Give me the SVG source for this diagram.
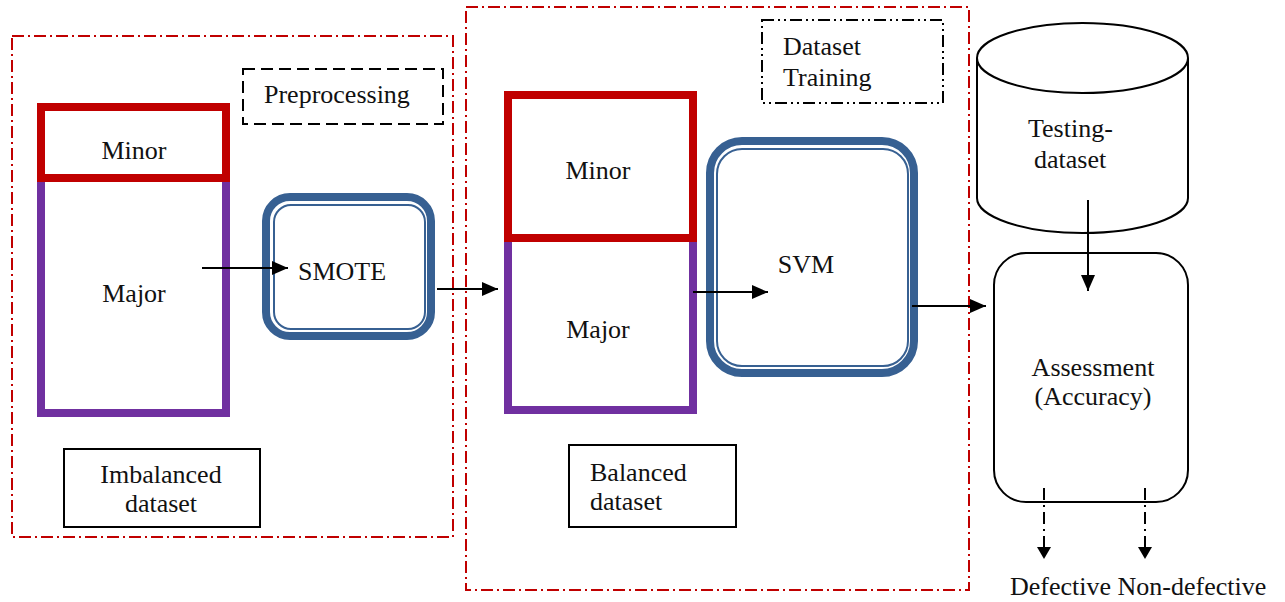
<svg xmlns="http://www.w3.org/2000/svg" width="1285" height="602" viewBox="0 0 1285 602">
<defs>
<marker id="ah" markerUnits="userSpaceOnUse" markerWidth="16" markerHeight="14" refX="16" refY="7" orient="auto"><path d="M0,0 L16,7 L0,14 Z" fill="#000"/></marker>
<marker id="ahs" markerUnits="userSpaceOnUse" markerWidth="12" markerHeight="14" refX="12" refY="7" orient="auto"><path d="M0,0 L12,7 L0,14 Z" fill="#000"/></marker>
</defs>
<style>
text{font-family:"Liberation Serif","Times New Roman",serif;font-size:26px;fill:#111}
.c{text-anchor:middle}
.grp{fill:none;stroke:#C00000;stroke-width:2;stroke-dasharray:12 4 2 4}
.minor{fill:none;stroke:#C00000;stroke-width:8}
.major{fill:none;stroke:#7030A0;stroke-width:8}
.blue{fill:none;stroke:#376092;stroke-width:8}
.bluein{fill:none;stroke:#376092;stroke-width:2}
.conn{stroke:#000;stroke-width:2;fill:none}
</style>
<g id="group-preprocessing"><rect class="grp" x="12" y="36" width="441" height="501"/></g>
<g id="group-training"><rect class="grp" x="466" y="7" width="503" height="583"/></g>
<g id="label-preprocessing"><rect x="243" y="69" width="200" height="55" fill="none" stroke="#000" stroke-width="2" stroke-dasharray="12 6"/><text x="264" y="103">Preprocessing</text></g>
<g id="label-training"><rect x="762" y="20" width="181" height="83" fill="none" stroke="#000" stroke-width="2" stroke-dasharray="12 4 2 4 2 4"/><text x="783" y="55">Dataset</text><text x="783" y="86">Training</text></g>
<g id="imbalanced"><rect class="major" x="41" y="178" width="185" height="235"/><rect class="minor" x="41" y="107" width="185" height="71"/><text class="c" x="134" y="159">Minor</text><text class="c" x="134" y="302">Major</text></g>
<g id="label-imbalanced"><rect x="64" y="449" width="196" height="78" fill="none" stroke="#000" stroke-width="2"/><text class="c" x="161" y="483">Imbalanced</text><text class="c" x="161" y="512">dataset</text></g>
<g id="smote"><rect class="blue" x="266" y="197" width="165" height="139" rx="24"/><rect class="bluein" x="274" y="205" width="151" height="124" rx="17"/><text class="c" x="342" y="280">SMOTE</text></g>
<g id="balanced"><rect class="major" x="508" y="238" width="185" height="172"/><rect class="minor" x="508" y="95" width="185" height="143"/><text class="c" x="598" y="179">Minor</text><text class="c" x="598" y="338">Major</text></g>
<g id="label-balanced"><rect x="569" y="445" width="167" height="82" fill="none" stroke="#000" stroke-width="2"/><text x="590" y="481">Balanced</text><text x="590" y="510">dataset</text></g>
<g id="svm"><rect class="blue" x="710" y="141" width="204" height="232" rx="32"/><rect class="bluein" x="717" y="149" width="191" height="217" rx="25"/><text class="c" x="806" y="273">SVM</text></g>
<g id="testing"><path d="M977,58 L977,198 A105.5,35 0 0 0 1188,198 L1188,58 A105.5,35 0 0 0 977,58 A105.5,35 0 0 0 1188,58" fill="#fff" stroke="#000" stroke-width="2"/><text x="1028" y="137">Testing-</text><text x="1034" y="168">dataset</text></g>
<g id="assessment"><rect x="994" y="253" width="194" height="249" rx="32" fill="#fff" stroke="#000" stroke-width="2"/><text class="c" x="1093" y="376">Assessment</text><text class="c" x="1093" y="405">(Accuracy)</text></g>
<g id="outputs"><text x="1010" y="595">Defective Non-defective</text></g>
<g id="connectors">
<line class="conn" x1="202" y1="268" x2="288" y2="268" marker-end="url(#ah)"/>
<line class="conn" x1="437" y1="289" x2="498" y2="289" marker-end="url(#ah)"/>
<line class="conn" x1="693" y1="292" x2="768" y2="292" marker-end="url(#ah)"/>
<line class="conn" x1="912" y1="306" x2="986" y2="306" marker-end="url(#ah)"/>
<line class="conn" x1="1088" y1="200" x2="1088" y2="291" marker-end="url(#ah)"/>
<line class="conn" x1="1044" y1="488" x2="1044" y2="559" stroke-dasharray="12 5 2 5" marker-end="url(#ahs)"/>
<line class="conn" x1="1145" y1="488" x2="1145" y2="559" stroke-dasharray="12 5 2 5" marker-end="url(#ahs)"/>
</g>
</svg>
